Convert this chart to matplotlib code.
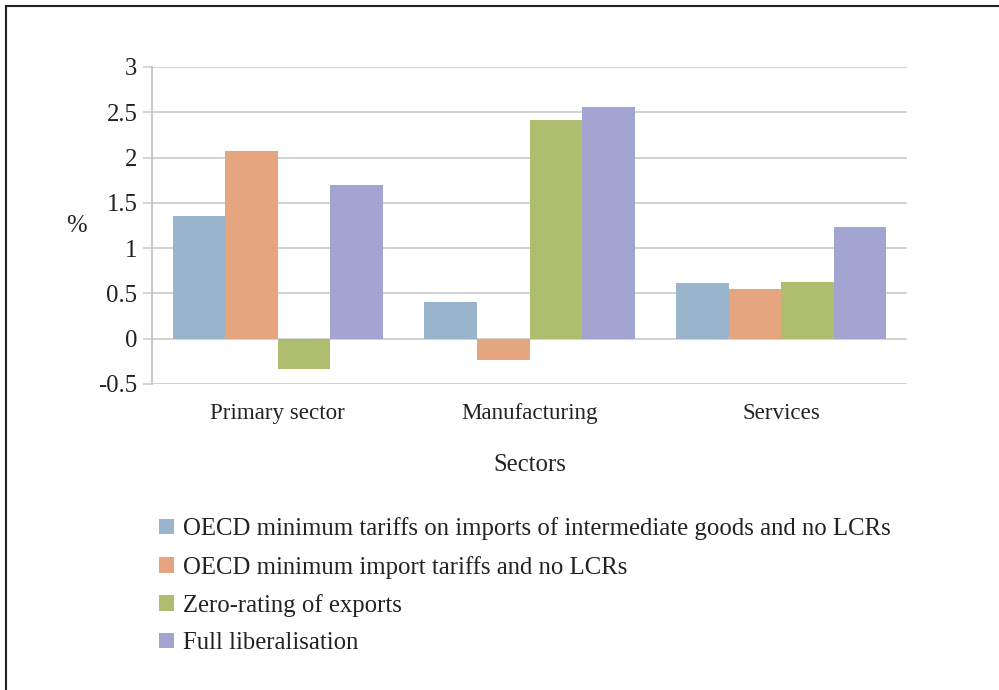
import numpy as np
import matplotlib.pyplot as plt
from matplotlib.patches import Rectangle

plt.rcParams['font.family'] = ['Liberation Serif', 'DejaVu Serif']

sectors = ["Primary sector", "Manufacturing", "Services"]
scenarios = [
    "OECD minimum tariffs on imports of intermediate goods and no LCRs",
    "OECD minimum import tariffs and no LCRs",
    "Zero-rating of exports",
    "Full liberalisation",
]
oecd_intermediate = [1.35, 0.40, 0.61]
oecd_import = [2.07, -0.24, 0.55]
zero_rating = [-0.34, 2.41, 0.63]
full_liberalisation = [1.70, 2.56, 1.23]

COLORS = ["#9AB4CB", "#E5A57E", "#AEBD6E", "#A3A5D1"]
GRID = "#CFCFCF"
FS = 17.8

series = [oecd_intermediate, oecd_import, zero_rating, full_liberalisation]

fig = plt.figure(figsize=(9.99, 6.9), dpi=100)
ax = fig.add_axes([0.1522, 0.4435, 0.7557, 0.4594])

x = np.arange(len(sectors))
width = 0.209
handles = []
for i, (vals, label) in enumerate(zip(series, scenarios)):
    offset = (i - 1.5) * width
    h = ax.bar(x + offset, vals, width, color=COLORS[i], label=label, zorder=3)
    handles.append(h)

ax.set_xlim(-0.5, 2.5)
ax.set_ylim(-0.5, 3)
ax.set_yticks(np.arange(-0.5, 3.01, 0.5))
ax.set_yticklabels(["-0.5", "0", "0.5", "1", "1.5", "2", "2.5", "3"])
ax.set_xticks(x)
ax.set_xticklabels(sectors)

ax.yaxis.grid(True, color=GRID, linewidth=1.3, zorder=0)
for side in ["top", "right", "bottom"]:
    ax.spines[side].set_visible(False)
ax.spines["left"].set_color("#BEBEBE")
ax.spines["left"].set_linewidth(1.2)
ax.tick_params(axis="y", length=6.5, width=1.2, color=GRID, pad=4, labelsize=FS, labelcolor="#222222")
ax.tick_params(axis="x", length=0, pad=14, labelsize=16.6, labelcolor="#222222")

ax.set_xlabel("Sectors", fontsize=FS, color="#222222", labelpad=21)
fig.text(76 / 999, 1 - 226 / 690, "%", fontsize=FS, color="#222222", ha="center", va="center")

fig.legend(handles=handles, labels=scenarios, loc="upper left",
           bbox_to_anchor=(137 / 999, 1 - 495 / 690), frameon=False, fontsize=FS,
           handlelength=0.58, handleheight=0.58, handletextpad=0.38, labelspacing=0.62,
           labelcolor="#222222")

# outer frame around the whole figure
fig.patches.append(Rectangle((6 / 999, -0.1), 1.2, 1 - 6 / 690 + 0.1, transform=fig.transFigure,
                             fill=False, edgecolor="#222222", linewidth=1.5))

fig.savefig("out.png", dpi=100)
